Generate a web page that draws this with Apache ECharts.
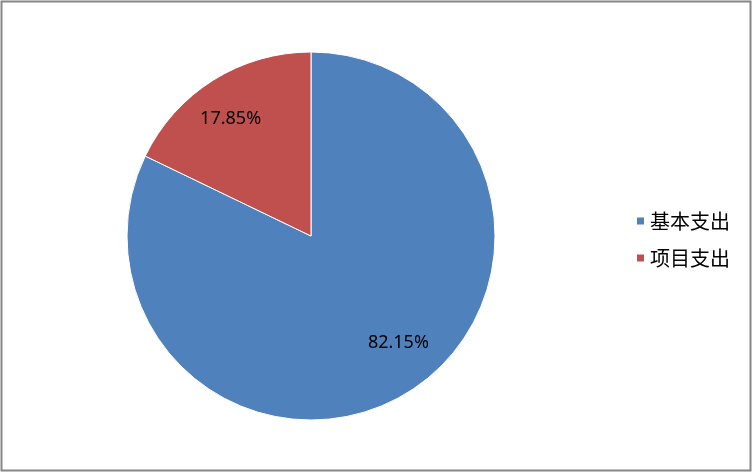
<!DOCTYPE html>
<html><head><meta charset="utf-8">
<script src="https://cdn.jsdelivr.net/npm/echarts@6/dist/echarts.min.js"></script>
<style>html,body{margin:0;padding:0;background:#fff}#c{width:753px;height:473px}</style>
</head><body><div id="c"></div>
<script>
const categories = ['基本支出', '项目支出'];
const values = [82.15, 17.85];
const colors = ['#4F81BD', '#C0504D'];

const labelOffsets = [[14, -10], [-7, 0]];
const chart = echarts.init(document.getElementById('c'));
const data = categories.map((n, i) => ({ name: n, value: values[i], itemStyle: { color: colors[i] } }));
chart.setOption({
  animation: false,
  graphic: [{ type: 'rect', shape: { x: 1.5, y: 1.5, width: 749, height: 469 }, style: { fill: 'none', stroke: '#868686', lineWidth: 2 }, silent: true }],
  legend: {
    orient: 'vertical', left: 630, top: 206,
    itemWidth: 9, itemHeight: 9, itemGap: 17, icon: 'rect',
    textStyle: { fontFamily: 'Noto Sans CJK SC', fontSize: 20, color: '#000' },
    data: categories
  },
  series: [
    {
      type: 'pie', center: [311, 236], radius: [0, 184], startAngle: 90, clockwise: true,
      label: { show: false }, labelLine: { show: false },
      itemStyle: { borderColor: '#fff', borderWidth: 1 },
      emphasis: { disabled: true },
      data: data
    },
    {
      type: 'pie', center: [311, 236], radius: [0, 270], startAngle: 90, clockwise: true, silent: true,
      itemStyle: { color: 'rgba(0,0,0,0)' },
      label: { show: true, position: 'inside', formatter: p => p.value.toFixed(2) + '%', fontFamily: 'Noto Sans', fontSize: 18, color: '#000' },
      labelLine: { show: false },
      emphasis: { disabled: true },
      legendHoverLink: false,
      data: categories.map((n, i) => ({ name: n + ' ', value: values[i], label: { offset: labelOffsets[i] } }))
    }
  ]
});
</script></body></html>
